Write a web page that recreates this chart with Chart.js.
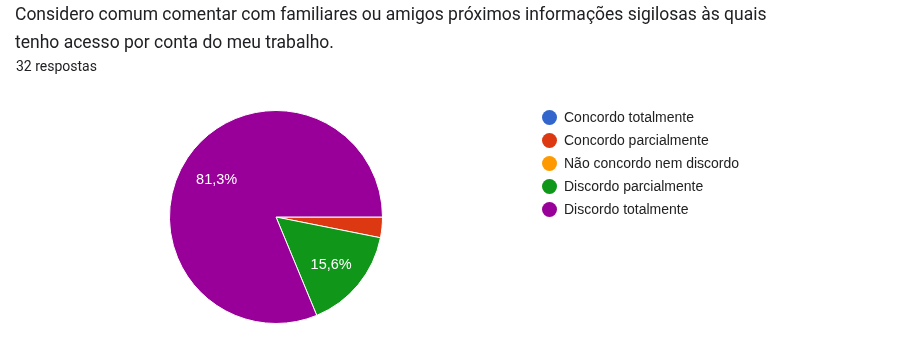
<!DOCTYPE html>
<html>
<head>
<meta charset="utf-8">
<script src="https://cdn.jsdelivr.net/npm/chart.js@4/dist/chart.umd.min.js"></script>
<style>
  html, body { margin: 0; padding: 0; background: #fff; }
  #wrap { position: relative; width: 899px; height: 337px; overflow: hidden; }
  #title { position: absolute; left: 15px; top: 0px; width: 880px; font-family: Roboto, Arial, sans-serif; font-size: 17.5px; line-height: 28px; color: #202124; }
  #sub { position: absolute; left: 16px; top: 58px; font-family: Roboto, Arial, sans-serif; font-size: 14px; color: #202124; }
  canvas { position: absolute; left: 0; top: 0; }
</style>
</head>
<body>
<div id="wrap">
  <canvas id="c" width="899" height="337"></canvas>
  <div id="title">Considero comum comentar com familiares ou amigos próximos informações sigilosas às quais<br>tenho acesso por conta do meu trabalho.</div>
  <div id="sub">32 respostas</div>
</div>
<script>
const categories = [
  'Concordo totalmente',
  'Concordo parcialmente',
  'Não concordo nem discordo',
  'Discordo parcialmente',
  'Discordo totalmente'
];
const responses = [0, 1, 0, 5, 26];
const sliceColors = ['#3366cc', '#dc3912', '#ff9900', '#109618', '#990099'];

const total = responses.reduce((a, b) => a + b, 0);

// Percentage labels inside slices (comma decimal, hidden on thin slices)
const sliceLabels = {
  id: 'sliceLabels',
  afterDatasetsDraw(chart) {
    const { ctx } = chart;
    const meta = chart.getDatasetMeta(0);
    ctx.save();
    ctx.font = '14.5px "Liberation Sans", Arial, sans-serif';
    ctx.fillStyle = '#ffffff';
    ctx.textAlign = 'center';
    ctx.textBaseline = 'middle';
    meta.data.forEach((arc, i) => {
      const v = responses[i];
      const pct = v / total * 100;
      if (pct < 5) return;
      const mid = (arc.startAngle + arc.endAngle) / 2;
      const r = arc.outerRadius * 0.67;
      const x = arc.x + Math.cos(mid) * r;
      const y = arc.y + Math.sin(mid) * r + 2.5;
      ctx.fillText(pct.toFixed(1).replace('.', ',') + '%', x, y);
    });
    ctx.restore();
  }
};

// Legend list to the right of the pie
const sideLegend = {
  id: 'sideLegend',
  afterDraw(chart) {
    const { ctx } = chart;
    ctx.save();
    ctx.font = '14px "Liberation Sans", Arial, sans-serif';
    ctx.textBaseline = 'middle';
    ctx.textAlign = 'left';
    categories.forEach((name, i) => {
      const y = 117.5 + i * 23;
      ctx.beginPath();
      ctx.arc(549.5, y, 7.5, 0, Math.PI * 2);
      ctx.fillStyle = sliceColors[i];
      ctx.fill();
      ctx.fillStyle = '#222222';
      ctx.fillText(name, 564, y + 0.5);
    });
    ctx.restore();
  }
};

new Chart(document.getElementById('c'), {
  type: 'pie',
  data: {
    labels: categories,
    datasets: [{
      data: responses,
      backgroundColor: sliceColors,
      borderColor: '#ffffff',
      borderWidth: 1
    }]
  },
  options: {
    responsive: false,
    animation: false,
    rotation: 90,
    layout: { padding: { left: 169, right: 516, top: 110, bottom: 13 } },
    plugins: {
      legend: { display: false },
      tooltip: { enabled: false },
      title: { display: false }
    }
  },
  plugins: [sliceLabels, sideLegend]
});
</script>
</body>
</html>
